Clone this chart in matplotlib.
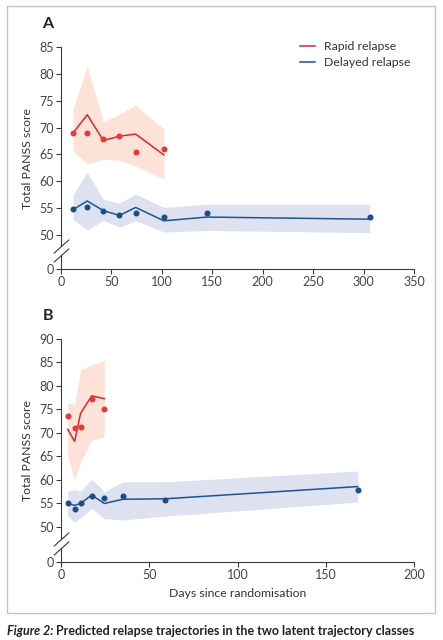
import numpy as np
import matplotlib
matplotlib.use("Agg")
import matplotlib.pyplot as plt
import matplotlib.transforms as mtransforms
from matplotlib.patches import Rectangle

plt.rcParams['font.family'] = ['Lato', 'DejaVu Sans']

# Panel A data
a_days = [12, 26, 42, 58, 74, 102]
a_rapid_obs = [69.0, 69.0, 67.9, 68.4, 65.4, 66.0]
a_rapid_fit = [69.0, 72.4, 67.6, 68.4, 68.8, 64.9]
a_rapid_hi = [73.5, 81.5, 71.1, 72.5, 74.2, 69.7]
a_rapid_lo = [65.6, 63.2, 64.1, 63.9, 62.8, 60.4]

a_days_d = [12, 26, 42, 58, 74, 102, 145, 306]
a_delay_obs = [54.8, 55.2, 54.5, 53.6, 54.0, 53.4, 54.0, 53.4]
a_delay_fit = [54.7, 56.3, 54.5, 53.6, 55.1, 52.6, 53.3, 52.9]
a_delay_hi = [57.5, 61.7, 56.6, 55.9, 57.6, 55.1, 55.7, 55.7]
a_delay_lo = [52.9, 50.9, 52.7, 51.4, 52.6, 50.5, 50.8, 50.4]

# Panel B data
b_days = [3.8, 7.7, 11.1, 17.4, 24.5]
b_rapid_obs = [73.7, 71.1, 71.3, 77.2, 75.0]
b_rapid_fit = [70.8, 68.2, 74.2, 77.9, 77.3]
b_rapid_hi = [76.5, 76.0, 83.5, 84.5, 85.4]
b_rapid_lo = [65.0, 60.0, 63.9, 68.5, 69.2]

b_days_d = [3.8, 7.7, 11.1, 17.4, 24.5, 35, 59, 168]
b_delay_obs = [55.1, 53.8, 55.1, 56.6, 56.1, 56.6, 55.7, 57.8]
b_delay_fit = [55.0, 54.6, 55.0, 56.8, 55.0, 55.9, 56.0, 58.6]
b_delay_hi = [57.6, 58.0, 57.6, 60.2, 57.5, 59.6, 59.6, 61.9]
b_delay_lo = [52.4, 51.0, 52.0, 54.0, 51.8, 51.5, 52.3, 55.3]

RED = '#d42a2c'
RED_DOT = '#e23b3a'
RED_BAND = '#fde2d7'
BLUE = '#1b5592'
BLUE_DOT = '#1c4d84'
BLUE_BAND = '#dde1f0'
AXC = '#3a3a3a'


def break_scale(g):
    def fwd(y):
        y = np.asarray(y, float)
        return np.where(y >= 50, y, 50 - g * (50 - y) / 50)

    def inv(t):
        t = np.asarray(t, float)
        return np.where(t >= 50, t, 50 - (50 - t) * 50 / g)
    return fwd, inv


def draw_panel(ax, g, ytop, xmax, rapid, delayed):
    fwd, inv = break_scale(g)
    ax.set_yscale('function', functions=(fwd, inv))

    for (x, obs, fit, hi, lo), band in [(rapid, RED_BAND), (delayed, BLUE_BAND)]:
        ax.fill_between(x, lo, hi, color=band, lw=0, zorder=1)
    labels = ['Rapid relapse', 'Delayed relapse']
    for (x, obs, fit, hi, lo), lc, dc, lab in [
            (rapid, RED, RED_DOT, labels[0]), (delayed, BLUE, BLUE_DOT, labels[1])]:
        ax.plot(x, fit, color=lc, lw=1.1, zorder=3, label=lab)
        ax.plot(x, obs, 'o', color=dc, ms=3.3, zorder=4, label='_nolegend_')

    ax.set_xlim(0, xmax)
    ax.set_ylim(0, ytop)
    ax.set_xticks(np.arange(0, xmax + 1, 50))
    ax.set_yticks([0] + list(range(50, ytop + 1, 5)))
    ax.yaxis.set_minor_locator(plt.NullLocator())
    ax.spines['top'].set_visible(False)
    ax.spines['right'].set_visible(False)
    for s in ['left', 'bottom']:
        ax.spines[s].set_color(AXC)
        ax.spines[s].set_linewidth(0.8)
    ax.tick_params(direction='out', length=3.5, width=0.8, color=AXC,
                   labelsize=9, labelcolor='#444444', pad=1.5)
    ax.set_ylabel('Total PANSS score', fontsize=8.8, color='#333333', labelpad=5)

    # axis break
    y1 = float(inv(50 - 0.34 * g))
    y2 = float(inv(50 - 0.60 * g))
    ax.spines['left'].set_bounds(y1, ytop)
    trans = mtransforms.blended_transform_factory(ax.transAxes, ax.transData)
    ax.plot([0, 0], [0, y2], color=AXC, lw=0.8, transform=trans, clip_on=False)
    ax.plot([0, 0], [y1, y2], linestyle='none', marker=[(-1, -0.9), (1, 0.9)],
            ms=11, mew=0.8, mec=AXC, transform=trans, clip_on=False)


fig = plt.figure(figsize=(4.43, 6.4), dpi=100)

axA = fig.add_axes([61 / 443, 1 - 269 / 640, 353 / 443, 221.7 / 640])
draw_panel(axA, 6.4, 85, 350,
           (a_days, a_rapid_obs, a_rapid_fit, a_rapid_hi, a_rapid_lo),
           (a_days_d, a_delay_obs, a_delay_fit, a_delay_hi, a_delay_lo))
leg = axA.legend(loc='upper right', bbox_to_anchor=(1.005, 1.05), frameon=False,
                 fontsize=8.8, handlelength=1.25, handletextpad=0.75,
                 labelspacing=0.4, borderaxespad=0)
for t in leg.get_texts():
    t.set_color('#333333')

axB = fig.add_axes([61 / 443, 1 - 562 / 640, 353.3 / 443, 223 / 640])
draw_panel(axB, 7.45, 90, 200,
           (b_days, b_rapid_obs, b_rapid_fit, b_rapid_hi, b_rapid_lo),
           (b_days_d, b_delay_obs, b_delay_fit, b_delay_hi, b_delay_lo))
axB.set_xlabel('Days since randomisation', fontsize=8.8, color='#333333', labelpad=5)

fig.text(48 / 443, 1 - 24 / 640, 'A', fontsize=11.5, fontweight='bold',
         ha='center', va='center', color='#222222')
fig.text(48 / 443, 1 - 316 / 640, 'B', fontsize=11.5, fontweight='bold',
         ha='center', va='center', color='#222222')

fig.patches.append(Rectangle((7 / 443, 1 - 613 / 640), 428 / 443, 607 / 640,
                             transform=fig.transFigure, fill=False,
                             edgecolor='#d9b9c5', lw=1.0))

t1 = fig.text(7 / 443, 1 - 631 / 640, 'Figure 2:', fontsize=9, fontweight='bold',
              fontstyle='italic', color='#222222', va='center', ha='left')
fig.canvas.draw()
bb = t1.get_window_extent()
x2 = (bb.x1 + 3) / fig.bbox.width
fig.text(x2, 1 - 631 / 640,
         'Predicted relapse trajectories in the two latent trajectory classes',
         fontsize=9, fontweight='bold', color='#222222', va='center', ha='left')

fig.savefig('out.png', dpi=100)
